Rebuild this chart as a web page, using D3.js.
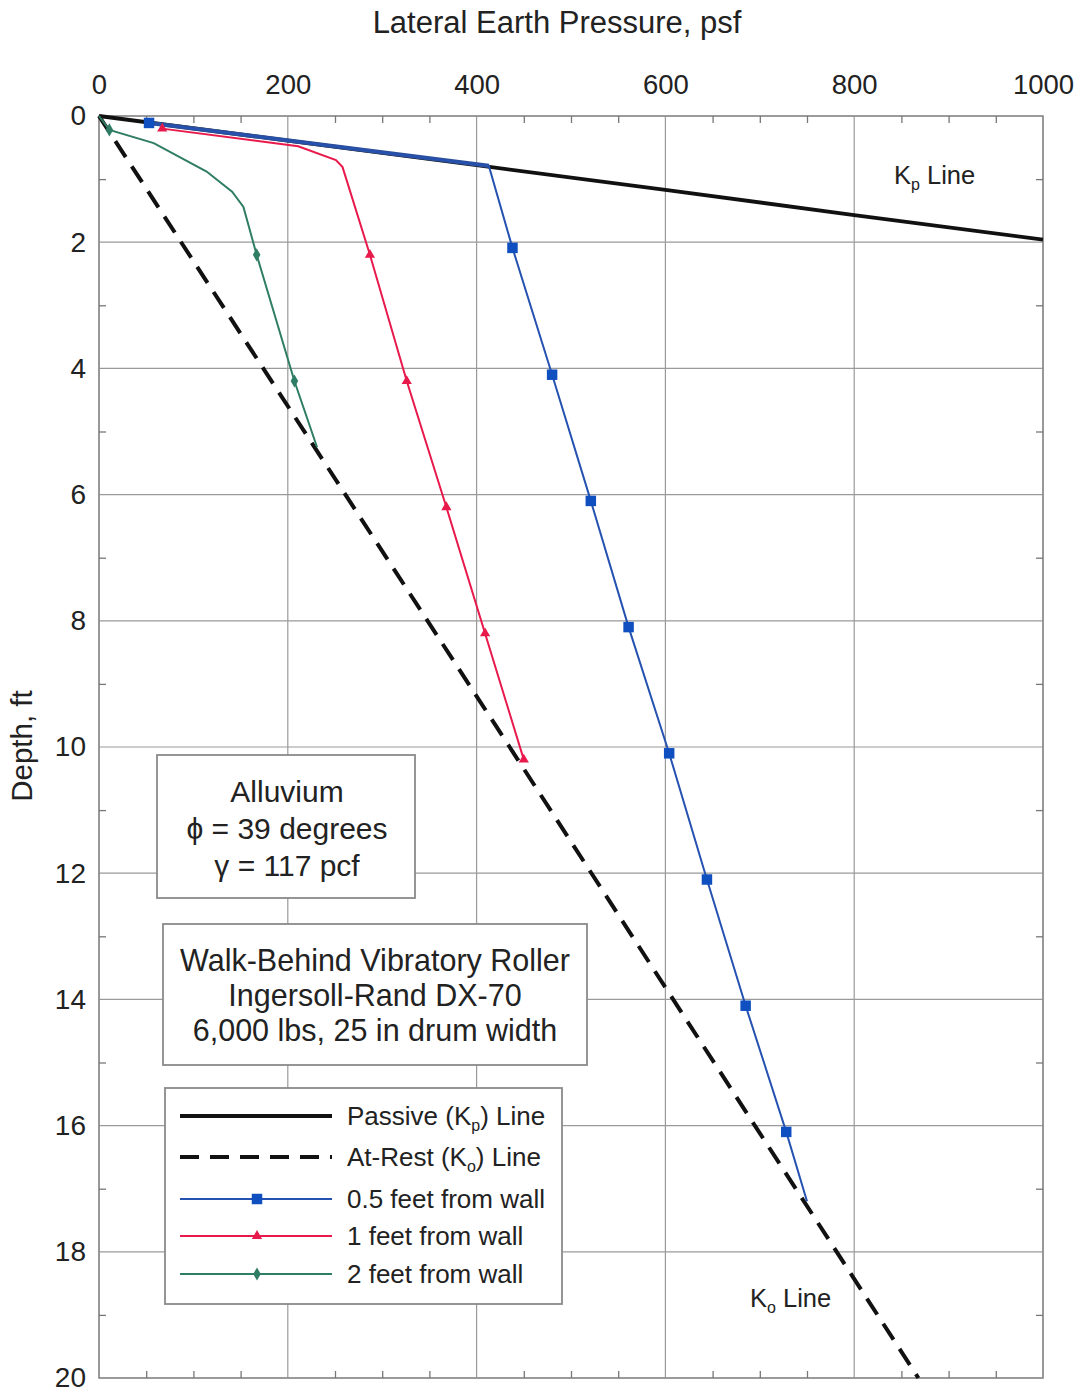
<!DOCTYPE html>
<html><head><meta charset="utf-8">
<script src="https://cdn.jsdelivr.net/npm/d3@7"></script>
<style>
html,body{margin:0;padding:0;background:#fff;}
svg{display:block;font-family:"Liberation Sans",Arial,Helvetica,sans-serif;}
</style></head>
<body>
<svg id="chart" width="1078" height="1396"></svg>
<script>
// ---- data (pressure psf, depth ft) ----
const xTicks = [0, 200, 400, 600, 800, 1000];
const yTicks = [0, 2, 4, 6, 8, 10, 12, 14, 16, 18, 20];
const xMinor = [50,100,150,250,300,350,450,500,550,650,700,750,850,900,950];
const yMinor = [1,3,5,7,9,11,13,15,17,19];

const kpLine = [[0,0],[200,0.39],[400,0.78],[600,1.17],[800,1.57],[1000,1.96]];
const koLine = [[0,0],[174,4],[435,10],[868,20]];

// [pressure, depth, hasMarker]
const halfFoot = [[53,0.11,1],[413,0.79,0],[438,2.09,1],[480,4.1,1],[521,6.1,1],[561,8.1,1],[604,10.1,1],[644,12.1,1],[685,14.1,1],[728,16.1,1],[750,17.2,0]];
const oneFoot = [[67,0.2,1],[211,0.48,0],[251,0.7,0],[258,0.81,0],[287,2.2,1],[326,4.2,1],[368,6.2,1],[409,8.2,1],[450,10.2,1]];
const twoFeet = [[0,0,0],[11,0.22,1],[58,0.43,0],[114,0.88,0],[141,1.2,0],[153,1.44,0],[167,2.2,1],[207,4.2,1],[231,5.25,0]];

const legendLabels = ["Passive (K|p) Line","At-Rest (K|o) Line","0.5 feet from wall","1 feet from wall","2 feet from wall"];
const soilLines = ["Alluvium","\u03d5 = 39 degrees","\u03b3 = 117 pcf"];
const rollerLines = ["Walk-Behind Vibratory Roller","Ingersoll-Rand DX-70","6,000 lbs, 25 in drum width"];

const C = {blue:"#2552b0", blueM:"#0f4fc0", red:"#e8194b", green:"#2f7d65", grid:"#9a9a9a"};

// ---- layout ----
const svg = d3.select("#chart");
const L=99, R=1043, T=116, B=1378;
const x = d3.scaleLinear().domain([0,1000]).range([L,R]);
const y = d3.scaleLinear().domain([0,20]).range([T,B]);

// grid
const g = svg.append("g");
g.selectAll(".vg").data(xTicks).join("line")
  .attr("x1",d=>x(d)).attr("x2",d=>x(d)).attr("y1",T).attr("y2",B)
  .attr("stroke",C.grid).attr("stroke-width",1.2);
g.selectAll(".hg").data(yTicks).join("line")
  .attr("y1",d=>y(d)).attr("y2",d=>y(d)).attr("x1",L).attr("x2",R)
  .attr("stroke",C.grid).attr("stroke-width",1.2);
svg.append("rect").attr("x",L).attr("y",T).attr("width",R-L).attr("height",B-T)
  .attr("fill","none").attr("stroke","#8a8a8a").attr("stroke-width",1.5);

// minor ticks (inward)
function minor(axis, tx, ty, vals){
  const a = svg.append("g").attr("transform",`translate(${tx},${ty})`)
    .call(axis.tickValues(vals).tickSize(7).tickFormat(""));
  a.select(".domain").remove();
  a.selectAll("line").attr("stroke","#777").attr("stroke-width",1.3);
}
minor(d3.axisBottom(x), 0, T, xMinor);
minor(d3.axisTop(x), 0, B, xMinor);
minor(d3.axisRight(y), L, 0, yMinor);
minor(d3.axisLeft(y), R, 0, yMinor);

// labelled axes
const xa = svg.append("g").attr("transform",`translate(0,${T})`)
  .call(d3.axisTop(x).tickValues(xTicks).tickFormat(d3.format("d")).tickSize(0).tickPadding(22));
xa.select(".domain").remove();
xa.selectAll("text").attr("font-size",27.5).attr("fill","#222").style("font-family","Liberation Sans, Arial");
const ya = svg.append("g").attr("transform",`translate(${L},0)`)
  .call(d3.axisLeft(y).tickValues(yTicks).tickSize(0).tickPadding(13));
ya.select(".domain").remove();
ya.selectAll("text").attr("font-size",28).attr("fill","#222").style("font-family","Liberation Sans, Arial");

// axis titles
svg.append("text").attr("x",557).attr("y",33).attr("text-anchor","middle")
  .attr("font-size",31).attr("fill","#222").text("Lateral Earth Pressure, psf");
svg.append("text").attr("transform","translate(32,746) rotate(-90)").attr("text-anchor","middle")
  .attr("font-size",29.5).attr("fill","#222").text("Depth, ft");

// lines
const line = d3.line().x(d=>x(d[0])).y(d=>y(d[1]));
svg.append("path").attr("d",line(kpLine)).attr("fill","none").attr("stroke","#111").attr("stroke-width",3.8);
svg.append("path").attr("d",line(koLine)).attr("fill","none").attr("stroke","#111").attr("stroke-width",4)
  .attr("stroke-dasharray","19,11");

function series(data, color, mcolor, shape, size){
  svg.append("path").attr("d",line(data)).attr("fill","none").attr("stroke",color).attr("stroke-width",2);
  svg.selectAll(null).data(data.filter(d=>d[2])).join("path")
    .attr("transform",d=>`translate(${x(d[0])},${y(d[1])})`)
    .attr("d",d3.symbol().type(shape).size(size)).attr("fill",mcolor);
}
// thick blue segment over Kp line
svg.append("path").attr("d",line(halfFoot.slice(0,2))).attr("fill","none").attr("stroke","#2d4f9a").attr("stroke-width",4.2);
series(halfFoot, C.blue, C.blueM, d3.symbolSquare, 110);
series(oneFoot, C.red, C.red, d3.symbolTriangle, 45);
series(twoFeet, C.green, C.green, d3.symbolDiamond, 50);

// line labels
function kLabel(tx, ty, sub){
  const t = svg.append("text").attr("x",tx).attr("y",ty).attr("font-size",25.5).attr("fill","#222");
  t.append("tspan").text("K");
  t.append("tspan").attr("font-size",16).attr("dy",6).text(sub);
  t.append("tspan").attr("dy",-6).text(" Line");
}
kLabel(894, 184, "p");
kLabel(750, 1307, "o");

// text boxes
function box(x0,y0,w,h){
  svg.append("rect").attr("x",x0).attr("y",y0).attr("width",w).attr("height",h)
    .attr("fill","#fff").attr("stroke","#8a8a8a").attr("stroke-width",1.8);
}
box(157,755,258,143);
svg.selectAll(null).data(soilLines).join("text")
  .attr("x",287).attr("y",(d,i)=>802+i*37).attr("text-anchor","middle")
  .attr("font-size",30).attr("fill","#222").text(d=>d);
box(163,924,424,141);
svg.selectAll(null).data(rollerLines).join("text")
  .attr("x",375).attr("y",(d,i)=>971+i*35).attr("text-anchor","middle")
  .attr("font-size",30.5).attr("fill","#222").text(d=>d);

// legend
box(165,1088,397,216);
const lg = svg.append("g");
const rowY = [1116,1157,1199,1236,1274];
const lstyles = [
  {c:"#111",w:3.8,dash:null,shape:null},
  {c:"#111",w:4,dash:"19,11",shape:null},
  {c:C.blue,w:2,dash:null,shape:d3.symbolSquare,mc:C.blueM,s:110},
  {c:C.red,w:2,dash:null,shape:d3.symbolTriangle,mc:C.red,s:45},
  {c:C.green,w:2,dash:null,shape:d3.symbolDiamond,mc:C.green,s:50}
];
legendLabels.forEach((lab,i)=>{
  const st = lstyles[i], yy = rowY[i];
  lg.append("line").attr("x1",180).attr("x2",332).attr("y1",yy).attr("y2",yy)
    .attr("stroke",st.c).attr("stroke-width",st.w).attr("stroke-dasharray",st.dash);
  if(st.shape) lg.append("path").attr("transform",`translate(257,${yy})`)
    .attr("d",d3.symbol().type(st.shape).size(st.s)).attr("fill",st.mc);
  const t = lg.append("text").attr("x",347).attr("y",yy+9).attr("font-size",26).attr("fill","#222");
  const parts = lab.split("|");
  if(parts.length>1){
    const sub = parts[1].slice(0,1), rest = parts[1].slice(1);
    t.append("tspan").text(parts[0]);
    t.append("tspan").attr("font-size",16).attr("dy",6).text(sub);
    t.append("tspan").attr("dy",-6).text(rest);
  } else t.text(lab);
});
</script>
</body></html>
